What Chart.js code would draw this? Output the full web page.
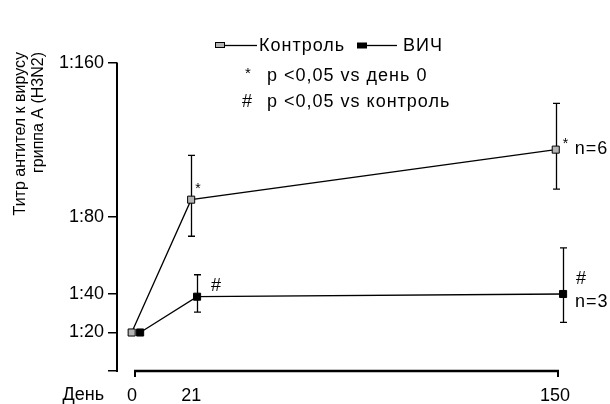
<!DOCTYPE html>
<html><head><meta charset="utf-8">
<script src="https://cdn.jsdelivr.net/npm/chart.js@4/dist/chart.umd.min.js"></script>
<style>html,body{margin:0;padding:0;background:#fff}#wrap{width:610px;height:404px}</style>
</head><body><div id="wrap"><canvas id="c" width="610" height="404"></canvas></div>
<script>
// ---- data ----
const days = [0, 21, 150];
const dayLabels = ['0', '21', '150'];
const yTickValues = [0, 20, 40, 80, 160];
const yTickLabels = ['', '1:20', '1:40', '1:80', '1:160'];
const controlX = [-1.2, 19.9, 149.2];
const controlY = [20, 89, 115];
const controlLow = [20, 70, 94.5];
const controlHigh = [20, 112, 139];
const hivX = [1.8, 22, 151.8];
const hivY = [20, 38.6, 40];
const hivLow = [20, 30.6, 25.3];
const hivHigh = [20, 50, 64];
const controlMarks = ['', '*', '*'];
const hivMarks = ['', '#', '#'];
const nLabels = ['n=6', 'n=3'];
const seriesNames = ['Контроль', 'ВИЧ'];
const noteLines = ['p <0,05 vs день 0', 'p <0,05 vs контроль'];
const yTitle = ['Титр антител к вирусу', 'гриппа А (H3N2)'];
const xTitle = 'День';

const FONT = "'Liberation Sans', Arial, sans-serif";
const GRAY = '#b4b4b4';

const errPlugin = {
  id: 'errs',
  beforeDatasetsDraw(chart) {
    const ctx = chart.ctx, xs = chart.scales.x, ys = chart.scales.y;
    const sets = [[controlX, controlLow, controlHigh], [hivX, hivLow, hivHigh]];
    ctx.save();
    ctx.strokeStyle = '#000'; ctx.lineWidth = 1.3;
    sets.forEach(([X, L, H]) => {
      X.forEach((xv, i) => {
        if (L[i] === H[i]) return;
        const px = Math.round(xs.getPixelForValue(xv)) + 0.5;
        const pl = ys.getPixelForValue(L[i]), ph = ys.getPixelForValue(H[i]);
        ctx.beginPath();
        ctx.moveTo(px, pl); ctx.lineTo(px, ph);
        ctx.moveTo(px - 3.5, pl); ctx.lineTo(px + 3.5, pl);
        ctx.moveTo(px - 3.5, ph); ctx.lineTo(px + 3.5, ph);
        ctx.stroke();
      });
    });
    ctx.restore();
  },
  afterDatasetsDraw(chart) {
    const ctx = chart.ctx, xs = chart.scales.x, ys = chart.scales.y, ca = chart.chartArea;
    ctx.save();
    ctx.fillStyle = '#000'; ctx.strokeStyle = '#000';
    // axes lines
    ctx.lineWidth = 2;
    ctx.beginPath();
    ctx.moveTo(ca.left, ys.getPixelForValue(yTickValues[yTickValues.length - 1]) - 0.5);
    ctx.lineTo(ca.left, ys.getPixelForValue(0) + 1);
    ctx.stroke();
    ctx.lineWidth = 2.5;
    ctx.beginPath();
    ctx.moveTo(xs.getPixelForValue(days[0]) - 1, ca.bottom);
    ctx.lineTo(xs.getPixelForValue(days[days.length - 1]) + 1, ca.bottom);
    ctx.stroke();
    // annotations
    ctx.textBaseline = 'middle'; ctx.textAlign = 'left';
    const starDx = [0, 4, 7], starDy = [0, -11, -5];
    controlX.forEach((xv, i) => {
      if (!controlMarks[i]) return;
      const px = xs.getPixelForValue(xv), py = ys.getPixelForValue(controlY[i]);
      ctx.font = '14px ' + FONT;
      ctx.fillText(controlMarks[i], px + starDx[i], py + starDy[i]);
    });
    hivX.forEach((xv, i) => {
      if (!hivMarks[i]) return;
      const px = xs.getPixelForValue(xv), py = ys.getPixelForValue(hivY[i]);
      ctx.font = '18px ' + FONT;
      ctx.fillText(hivMarks[i], px + (i === 2 ? 13 : 14), py - (i === 2 ? 15 : 11));
    });
    ctx.font = '18px ' + FONT;
    ctx.letterSpacing = '1px';
    const c2 = [xs.getPixelForValue(controlX[2]), ys.getPixelForValue(controlY[2])];
    ctx.fillText(nLabels[0], c2[0] + 19, c2[1] - 1);
    const h2 = [xs.getPixelForValue(hivX[2]), ys.getPixelForValue(hivY[2])];
    ctx.fillText(nLabels[1], h2[0] + 12, h2[1] + 8);
    ctx.letterSpacing = '0px';
    // x title
    ctx.textAlign = 'right';
    ctx.fillText(xTitle, xs.getPixelForValue(0) - 31, ca.bottom + 24);
    // y title
    ctx.save();
    ctx.rotate(-Math.PI / 2);
    ctx.textAlign = 'right';
    ctx.font = '16px ' + FONT;
    ctx.fillText(yTitle[0], -52, 21);
    ctx.fillText(yTitle[1], -52, 39);
    ctx.restore();
    // legend
    ctx.font = '18px ' + FONT;
    ctx.letterSpacing = '1px';
    ctx.textAlign = 'left';
    ctx.lineWidth = 1.3;
    // control
    ctx.beginPath(); ctx.moveTo(225, 45.5); ctx.lineTo(257, 45.5); ctx.stroke();
    ctx.fillStyle = GRAY; ctx.fillRect(215.5, 43, 9, 5);
    ctx.lineWidth = 1; ctx.strokeRect(215.5, 42.5, 9, 5);
    ctx.fillStyle = '#000';
    ctx.fillText(seriesNames[0], 259, 46);
    // hiv
    ctx.lineWidth = 1.3;
    ctx.beginPath(); ctx.moveTo(366, 45.5); ctx.lineTo(397, 45.5); ctx.stroke();
    ctx.fillRect(357, 42.5, 10, 6);
    ctx.fillText(seriesNames[1], 403, 46);
    // notes
    ctx.font = '15px ' + FONT;
    ctx.fillText('*', 245, 74);
    ctx.font = '18px ' + FONT;
    ctx.fillText(noteLines[0], 267, 76);
    ctx.fillText('#', 242, 102);
    ctx.fillText(noteLines[1], 267, 102);
    ctx.restore();
  }
};

new Chart(document.getElementById('c'), {
  type: 'scatter',
  data: {
    datasets: [
      {
        label: seriesNames[0],
        data: controlX.map((x, i) => ({ x, y: controlY[i] })),
        showLine: true, borderColor: '#000', borderWidth: 1.3,
        pointStyle: 'rect', pointRadius: 5, pointBackgroundColor: GRAY,
        pointBorderColor: '#000', pointBorderWidth: 1, clip: false
      },
      {
        label: seriesNames[1],
        data: hivX.map((x, i) => ({ x, y: hivY[i] })),
        showLine: true, borderColor: '#000', borderWidth: 1.3,
        pointStyle: 'rect', pointRadius: 5, pointBackgroundColor: '#000',
        pointBorderColor: '#000', pointBorderWidth: 1, clip: false
      }
    ]
  },
  options: {
    responsive: false, animation: false, devicePixelRatio: 1,
    layout: { padding: { top: 63, right: 52, left: 0, bottom: 0 } },
    plugins: { legend: { display: false }, tooltip: { enabled: false } },
    scales: {
      x: {
        type: 'linear', min: -6.4, max: 150,
        afterBuildTicks: s => { s.ticks = days.map(v => ({ value: v })); },
        afterFit: s => { s.height = 33; },
        ticks: { callback: (v) => dayLabels[days.indexOf(v)] ?? '', color: '#000', font: { family: FONT, size: 18 }, padding: 8, labelOffset: -3, maxRotation: 0, autoSkip: false },
        grid: { drawOnChartArea: false, tickLength: 6, lineWidth: 2,
          tickColor: c => (c.tick && c.tick.value === days[1]) ? 'rgba(0,0,0,0)' : '#000' },
        border: { display: false }
      },
      y: {
        min: 0, max: 160,
        afterBuildTicks: s => { s.ticks = yTickValues.map(v => ({ value: v })); },
        afterFit: s => { s.width = 117; },
        ticks: { callback: (v) => yTickLabels[yTickValues.indexOf(v)] ?? '', color: '#000', font: { family: FONT, size: 18 }, padding: 4, autoSkip: false },
        grid: { drawOnChartArea: false, tickLength: 9, lineWidth: 1.5, tickColor: '#000' },
        border: { display: false }
      }
    }
  },
  plugins: [errPlugin]
});
</script>
</body></html>
